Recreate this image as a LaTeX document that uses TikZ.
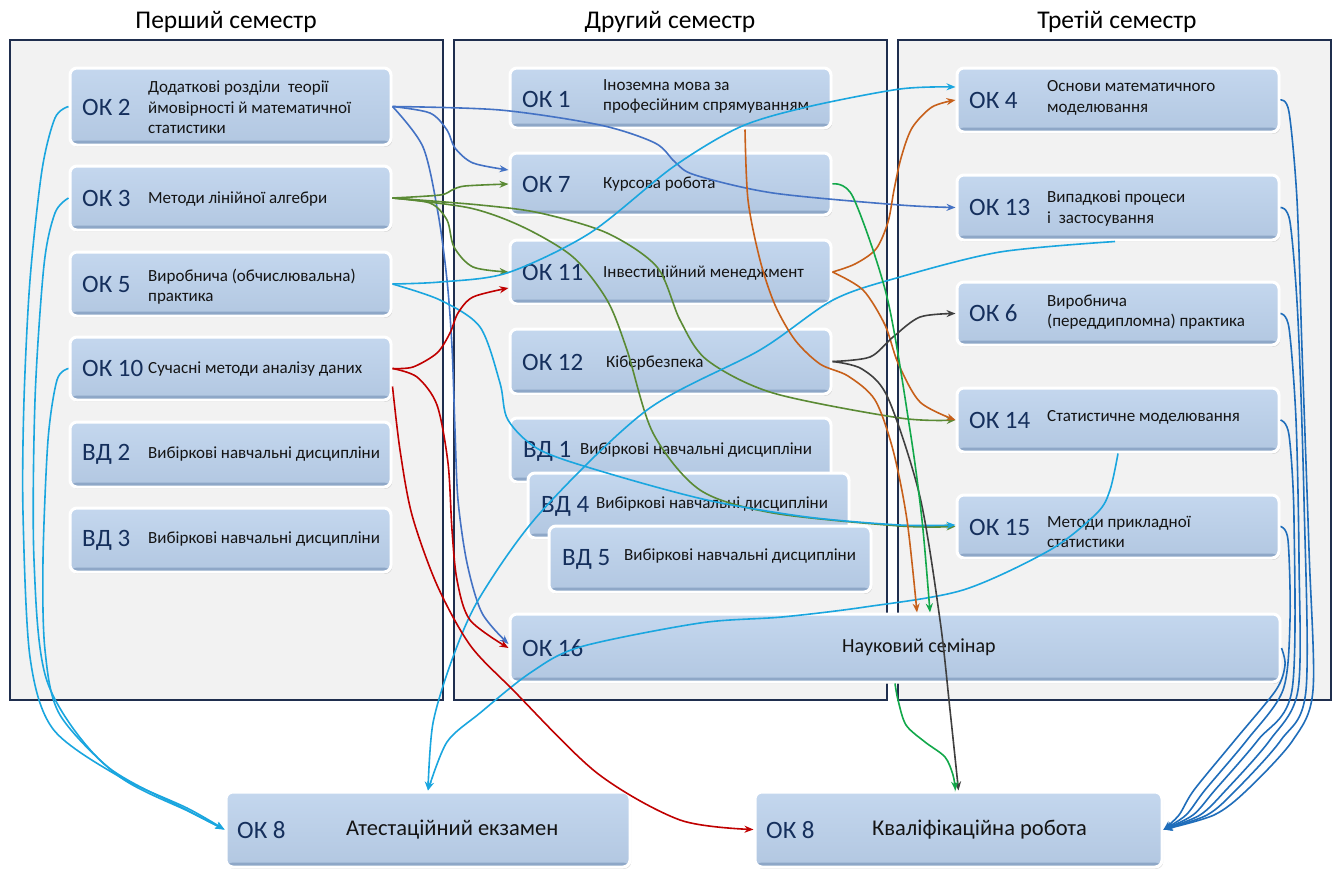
\documentclass[tikz,border=0pt]{standalone}
\usepackage{fontspec}
\setmainfont{Carlito}
\usetikzlibrary{arrows.meta,shadows}
\definecolor{panelfill}{HTML}{F2F2F2}
\definecolor{panelline}{HTML}{1F2E4E}
\definecolor{boxtop}{HTML}{C4D7EE}
\definecolor{boxbot}{HTML}{B2C7E1}
\definecolor{boxrim}{HTML}{8EA7C7}
\definecolor{labcol}{HTML}{152F5C}
\definecolor{cBlue}{HTML}{4472C4}
\definecolor{cOlive}{HTML}{5A8A34}
\definecolor{cCyan}{HTML}{1AA6DF}
\definecolor{cRed}{HTML}{C00000}
\definecolor{cOrange}{HTML}{C7601A}
\definecolor{cDark}{HTML}{3F3F3F}
\definecolor{cGreen}{HTML}{12A84A}
\definecolor{cNavy}{HTML}{1F6DBA}
\begin{document}
\begin{tikzpicture}[x=1pt,y=-1pt,
  panel/.style={draw=panelline, fill=panelfill, line width=1.2pt, minimum width=433pt, minimum height=660pt, inner sep=0pt},
  box/.style={rectangle, rounded corners=7pt, draw=white, line width=3pt, top color=boxtop, bottom color=boxbot,
    drop shadow={opacity=0.28, shadow xshift=1.2pt, shadow yshift=-1.8pt},
    path picture={\fill[boxrim] ([yshift=4.5pt]path picture bounding box.south west) rectangle (path picture bounding box.south east);},
    inner sep=0pt},
  lab/.style={anchor=west, inner sep=0pt, text=labcol, font=\fontsize{25}{30}\selectfont},
  desc/.style={anchor=west, inner sep=0pt, align=left, text=black!92, font=\fontsize{17}{20.5}\selectfont},
  bigdesc/.style={anchor=west, inner sep=0pt, text=black!92, font=\fontsize{22.5}{26}\selectfont},
  ttl/.style={inner sep=0pt, text=black, font=\fontsize{25.5}{30}\selectfont},
  conn/.style={line width=1.6pt, -{Stealth[length=9pt,width=7pt]}},
]
\useasboundingbox (0,0) rectangle (1338,871);
\fill[white] (0,0) rectangle (1338,871);
% panels
\node[panel] (p1) at (226.5,370) {};
\node[panel] (p2) at (670.5,370) {};
\node[panel] (p3) at (1114.5,370) {};
\node[ttl] (t1) at (226,22) {Перший семестр};
\node[ttl] (t2) at (670,22) {Другий семестр};
\node[ttl] (t3) at (1117,22) {Третій семестр};
% column 1
\node[box, minimum width=321pt, minimum height=77pt] (ok2) at (230.5,106.5) {};
\node[lab] (ok2l) at (82,107) {ОК 2};
\node[desc] (ok2d) at (148,107.5) {Додаткові розділи \ теорії\\ймовірності й математичної\\статистики};
\node[box, minimum width=321pt, minimum height=64pt] (ok3) at (230.5,198) {};
\node[lab] (ok3l) at (82,198) {ОК 3};
\node[desc] (ok3d) at (148,199) {Методи лінійної алгебри};
\node[box, minimum width=321pt, minimum height=64pt] (ok5) at (230.5,284) {};
\node[lab] (ok5l) at (82,284) {ОК 5};
\node[desc] (ok5d) at (148,286.5) {Виробнича (обчислювальна)\\практика};
\node[box, minimum width=321pt, minimum height=63pt] (ok10) at (230.5,368.5) {};
\node[lab] (ok10l) at (82,368.5) {ОК 10};
\node[desc] (ok10d) at (148,369) {Сучасні методи аналізу даних};
\node[box, minimum width=321pt, minimum height=65pt] (vd2) at (230.5,454.5) {};
\node[lab] (vd2l) at (82,454.5) {ВД 2};
\node[desc] (vd2d) at (148,454) {Вибіркові навчальні дисципліни};
\node[box, minimum width=321pt, minimum height=64pt] (vd3) at (230.5,540) {};
\node[lab] (vd3l) at (82,540) {ВД 3};
\node[desc] (vd3d) at (148,539) {Вибіркові навчальні дисципліни};
% column 2
\node[box, minimum width=321pt, minimum height=60pt] (ok1) at (670.5,98) {};
\node[lab] (ok1l) at (522,99) {ОК 1};
\node[desc] (ok1d) at (603,96.5) {Іноземна мова за\\професійним спрямуванням};
\node[box, minimum width=321pt, minimum height=62pt] (ok7) at (670.5,184) {};
\node[lab] (ok7l) at (522,184) {ОК 7};
\node[desc] (ok7d) at (603,184) {Курсова робота};
\node[box, minimum width=321pt, minimum height=64pt] (ok11) at (670.5,272) {};
\node[lab] (ok11l) at (522,272) {ОК 11};
\node[desc] (ok11d) at (603,273) {Інвестиційний менеджмент};
\node[box, minimum width=321pt, minimum height=65pt] (ok12) at (670.5,361.5) {};
\node[lab] (ok12l) at (522,362) {ОК 12};
\node[desc] (ok12d) at (606,363) {Кібербезпека};
\node[box, minimum width=321pt, minimum height=64pt] (vd1) at (670.5,450) {};
\node[lab] (vd1l) at (523,451) {ВД 1};
\node[desc] (vd1d) at (580,450) {Вибіркові навчальні дисципліни};
\node[box, minimum width=321pt, minimum height=65pt] (vd4) at (688.5,505.5) {};
\node[lab] (vd4l) at (541,506) {ВД 4};
\node[desc] (vd4d) at (596,504) {Вибіркові навчальні дисципліни};
\node[box, minimum width=322pt, minimum height=66pt] (vd5) at (710,559) {};
\node[lab] (vd5l) at (562,559) {ВД 5};
\node[desc] (vd5d) at (624,556) {Вибіркові навчальні дисципліни};
% column 3
\node[box, minimum width=322pt, minimum height=64pt] (ok4) at (1118,100) {};
\node[lab] (ok4l) at (969,100) {ОК 4};
\node[desc] (ok4d) at (1047,98) {Основи математичного\\моделювання};
\node[box, minimum width=322pt, minimum height=65pt] (ok13) at (1118,207.5) {};
\node[lab] (ok13l) at (969,207.5) {ОК 13};
\node[desc] (ok13d) at (1047,208.5) {Випадкові процеси\\і \ застосування};
\node[box, minimum width=322pt, minimum height=63pt] (ok6) at (1118,313.5) {};
\node[lab] (ok6l) at (969,313.5) {ОК 6};
\node[desc] (ok6d) at (1047,312) {Виробнича\\(переддипломна) практика};
\node[box, minimum width=322pt, minimum height=64pt] (ok14) at (1118,420) {};
\node[lab] (ok14l) at (969,420) {ОК 14};
\node[desc] (ok14d) at (1047,417) {Статистичне моделювання};
\node[box, minimum width=322pt, minimum height=63pt] (ok15) at (1118,526.5) {};
\node[lab] (ok15l) at (969,527) {ОК 15};
\node[desc] (ok15d) at (1047,532) {Методи прикладної\\статистики};
% seminar
\node[box, minimum width=770pt, minimum height=68pt] (ok16) at (895,648) {};
\node[lab] (ok16l) at (522,648) {ОК 16};
\node[desc, font=\fontsize{20}{24}\selectfont] (ok16d) at (842,647) {Науковий семінар};
% bottom
\node[box, minimum width=404pt, minimum height=75pt] (atest) at (428,829.5) {};
\node[lab] (atestl) at (237,830) {ОК 8};
\node[bigdesc] (atestd) at (346,830) {Атестаційний екзамен};
\node[box, minimum width=407pt, minimum height=75pt] (kval) at (958.5,829.5) {};
\node[lab] (kvall) at (766,830) {ОК 8};
\node[bigdesc] (kvald) at (872,830) {Кваліфікаційна робота};
% shifted end points
\coordinate (ok7a) at ([yshift=14pt]ok7.west);
\coordinate (ok16a) at ([yshift=4pt]ok16.west);
\coordinate (ok11a) at ([yshift=-16pt]ok11.west);
\coordinate (ok4a) at ([yshift=13pt]ok4.west);
\coordinate (ok10b) at ([yshift=-18pt]ok10.east);
\coordinate (ok1s) at ([xshift=74.5pt]ok1.south);
\coordinate (ok16n1) at ([xshift=22pt]ok16.north);
\coordinate (ok16n2) at ([xshift=35pt]ok16.north);
\coordinate (ok13s) at ([xshift=-3pt]ok13.south);
\coordinate (kvaln) at ([xshift=-3pt]kval.north);
\coordinate (ok15a) at ([yshift=1.5pt]ok15.west);
% blue from OK2
\draw[conn, cBlue] plot[smooth] coordinates {(ok2.east) (500,110) (600,125) (655,143) (675,162) (695,175) (773,193) (900,205) (ok13.west)};
\draw[conn, cBlue] plot[smooth] coordinates {(ok2.east) (430,113) (447,130) (455,148) (473,163) (ok7a)};
\draw[conn, cBlue] plot[smooth] coordinates {(ok2.east) (423,147) (438,213) (447,280) (452,347) (455,430) (458,500) (467,563) (482,613) (ok16a)};
% olive from OK3
\draw[conn, cOlive] plot[smooth] coordinates {(ok3.east) (440,195) (452,190) (465,186) (ok7.west)};
\draw[conn, cOlive] plot[smooth] coordinates {(ok3.east) (430,203) (447,220) (454,247) (473,267) (ok11.west)};
\draw[conn, cOlive] plot[smooth] coordinates {(ok3.east) (480,205) (540,213) (607,233) (657,267) (680,320) (707,360) (773,393) (900,418) (ok14.west)};
\draw[conn, cOlive] plot[smooth] coordinates {(ok3.east) (470,208) (523,227) (573,257) (607,300) (627,350) (653,433) (700,490) (773,513) (900,526) (ok15.west)};
% cyan
\draw[conn, cCyan] plot[smooth] coordinates {(ok5.east) (440,282) (507,273) (590,233) (673,167) (740,127) (807,107) (900,89) (ok4a)};
\draw[conn, cCyan] plot[smooth] coordinates {(ok5.east) (440,300) (480,327) (500,383) (508,420) (540,450) (607,473) (707,500) (807,517) (900,525) (ok15a)};
\draw[conn, cCyan] plot[smooth] coordinates {(ok13s) (1000,252) (900,277) (833,300) (760,350) (647,410) (540,513) (480,597) (453,657) (433,723) (atest.north)};
\draw[conn, cCyan] plot[smooth] coordinates {(ok14.south) (1110,490) (1097,513) (1050,550) (963,590) (865,607) (782,617) (700,623) (580,647) (530,673) (480,713) (447,742) (atest.north)};
\draw[conn, cCyan] plot[smooth] coordinates {(ok2.west) (55,118) (42,170) (30,280) (24,400) (23,513) (30,657) (53,729) (120,777) (187,808) (atest.west)};
\draw[conn, cCyan] plot[smooth] coordinates {(ok3.west) (55,213) (44,265) (35,400) (34,560) (47,681) (103,763) (187,810) (atest.west)};
\draw[conn, cCyan] plot[smooth] coordinates {(ok10.west) (57,380) (48,440) (43,560) (45,650) (60,715) (120,777) (190,812) (atest.west)};
% red from OK10
\draw[conn, cRed] plot[smooth] coordinates {(ok10.east) (413,367) (437,353) (450,333) (458,313) (473,297) (ok11a)};
\draw[conn, cRed] plot[smooth] coordinates {(ok10.east) (417,377) (437,405) (448,463) (452,530) (457,580) (470,620) (ok16.west)};
\draw[conn, cRed] plot[smooth] coordinates {(ok10b) (400,450) (412,515) (437,585) (470,645) (513,690) (597,773) (680,820) (kval.west)};
% orange
\draw[conn, cOrange] plot[smooth] coordinates {(ok1s) (748,200) (760,260) (775,305) (795,340) (820,364) (848,376) (875,400) (893,450) (907,520) (ok16n1)};
\draw[conn, cOrange] plot[smooth] coordinates {(ok11.east) (855,264) (876,249) (888,222) (894,190) (901,158) (912,128) (932,107) (ok4.west)};
\draw[conn, cOrange] plot[smooth] coordinates {(ok11.east) (863,290) (885,325) (898,363) (920,402) (ok14.west)};
% dark
\draw[conn, cDark] plot[smooth] coordinates {(ok12.east) (870,357) (893,337) (920,317) (ok6.west)};
\draw[conn, cDark] plot[smooth] coordinates {(ok12.east) (862,369) (888,398) (920,497) (940,620) (950,710) (kval.north)};
% bright green
\draw[conn, cGreen] plot[smooth] coordinates {(ok7.east) (853,197) (887,297) (910,430) (922,520) (ok16n2)};
\draw[conn, cGreen] plot[smooth] coordinates {(ok16.south) (898,700) (906,725) (925,742) (945,757) (953,775) (kvaln)};
% navy bundle to Kval
\draw[conn, cNavy] plot[smooth] coordinates {(ok4.east) (1289,112) (1297,200) (1302,350) (1309,550) (1313,690) (1293,740) (1247,790) (1214,815) (kval.east)};
\draw[conn, cNavy] plot[smooth] coordinates {(ok13.east) (1290,222) (1298,320) (1304,500) (1306,690) (1281,740) (1236,790) (1207,815) (kval.east)};
\draw[conn, cNavy] plot[smooth] coordinates {(ok6.east) (1289,328) (1296,420) (1299,560) (1298,690) (1270,740) (1226,790) (1200,815) (kval.east)};
\draw[conn, cNavy] plot[smooth] coordinates {(ok14.east) (1289,435) (1294,520) (1292,690) (1258,740) (1215,790) (1193,815) (kval.east)};
\draw[conn, cNavy] plot[smooth] coordinates {(ok15.east) (1288,540) (1290,620) (1283,690) (1247,740) (1205,790) (1186,815) (kval.east)};
\draw[conn, cNavy] plot[smooth] coordinates {(ok16.east) (1285,665) (1276,690) (1235,740) (1194,790) (1179,815) (kval.east)};
\end{tikzpicture}
\end{document}
